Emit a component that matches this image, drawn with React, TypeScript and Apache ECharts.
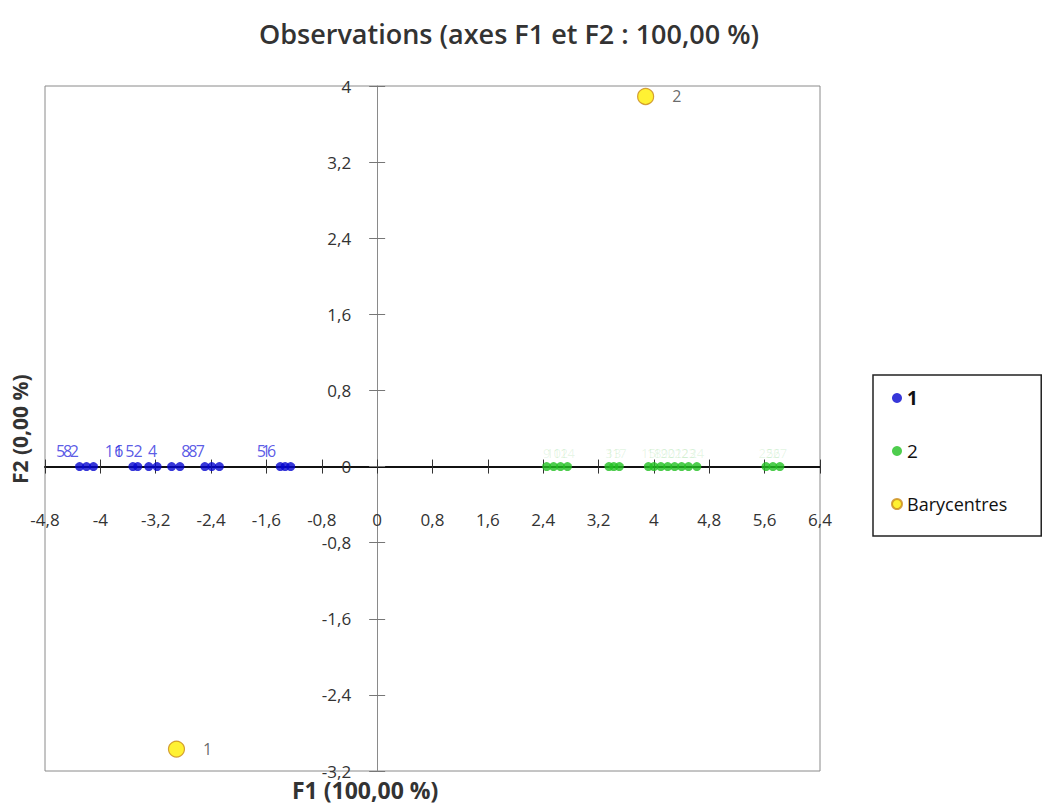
import React, { useEffect, useRef } from "react";
import * as echarts from "echarts";

const titleText = "Observations (axes F1 et F2 : 100,00 %)";
const xAxisTitle = "F1 (100,00 %)";
const yAxisTitle = "F2 (0,00 %)";

const xMin = -4.8;
const xMax = 6.4;
const yMin = -3.2;
const yMax = 4;
const step = 0.8;

const blueX = [-4.30, -4.20, -4.10, -3.53, -3.46, -3.30, -3.18, -2.97, -2.85, -2.49, -2.39, -2.28, -1.40, -1.33, -1.25];
const blueY = [0, 0, 0, 0, 0, 0, 0, 0, 0, 0, 0, 0, 0, 0, 0];
const blueLabels = ["5", "8", "2", "11", "6", "5", "2", "4", "", "8", "8", "7", "5", "1", "6"];

const greenX = [2.45, 2.55, 2.65, 2.75, 3.35, 3.42, 3.50, 3.92, 4.00, 4.10, 4.20, 4.30, 4.40, 4.50, 4.62, 5.62, 5.72, 5.82];
const greenY = [0, 0, 0, 0, 0, 0, 0, 0, 0, 0, 0, 0, 0, 0, 0, 0, 0, 0];
const greenLabels = ["9", "10", "12", "14", "3", "13", "17", "15", "18", "19", "20", "21", "22", "23", "24", "25", "26", "27"];

const baryX = [-2.90, 3.88];
const baryY = [-2.97, 3.89];
const baryLabels = ["1", "2"];

const seriesNames = ["1", "2", "Barycentres"];

const FONT = "'Open Sans', Lato, sans-serif";

const fmt = (v: number) => String(Math.round(v * 10) / 10).replace(".", ",");

export default function App() {
  const ref = useRef<HTMLDivElement>(null);
  useEffect(() => {
    document.body.style.margin = "0";
    const chart = echarts.init(ref.current!, undefined, { renderer: "svg" });
    const gL = 45, gT = 86, gW = 775, gH = 685;
    // offsets so that the axes cross at the origin
    const xZeroPx = (gW * (0 - xMin)) / (xMax - xMin);
    const yZeroFromBottom = (gH * (0 - yMin)) / (yMax - yMin);
    const axisCommonX = {
      type: "value" as const,
      min: xMin,
      max: xMax,
      interval: step,
      position: "bottom" as const,
      offset: -yZeroFromBottom,
      splitLine: { show: false },
    };
    const axisCommonY = {
      type: "value" as const,
      min: yMin,
      max: yMax,
      interval: step,
      position: "left" as const,
      offset: -xZeroPx,
      splitLine: { show: false },
    };
    const baryLabelStyle = {
      show: true,
      position: "right" as const,
      distance: 18,
      fontFamily: FONT,
      fontSize: 16,
      color: "#444444",
    };
    chart.setOption({
      animation: false,
      backgroundColor: "#ffffff",
      title: {
        text: titleText,
        left: 254,
        top: 15,
        textStyle: { fontFamily: FONT, fontSize: 27, fontWeight: 600, color: "#333333" },
      },
      grid: {
        left: gL,
        top: gT,
        width: gW,
        height: gH,
        show: true,
        borderColor: "#8a8a8a",
        borderWidth: 1,
        containLabel: false,
        outerBoundsMode: "none",
      },
      legend: {
        orient: "vertical",
        left: 873,
        top: 375,
        padding: [13, 34, 22, 18],
        itemGap: 33,
        itemWidth: 10,
        itemHeight: 10,
        borderColor: "#222222",
        borderWidth: 1.5,
        textStyle: { fontFamily: FONT, fontSize: 18, lineHeight: 20, color: "#111111" },
        data: [
          { name: "1", icon: "circle", textStyle: { fontWeight: "bold", fontSize: 19 } },
          { name: "2", icon: "circle", textStyle: { fontSize: 19 } },
          { name: "Barycentres", icon: "circle" },
        ],
      },
      xAxis: [
        {
          ...axisCommonX,
          axisLine: { onZero: false, lineStyle: { color: "#111111", width: 2 } },
          axisTick: { show: true, inside: false, length: 7, lineStyle: { color: "#333333", width: 1 } },
          axisLabel: { margin: 44, formatter: fmt, fontFamily: FONT, fontSize: 17, color: "#333333" },
        },
        {
          ...axisCommonX,
          axisLine: { show: false, onZero: false },
          axisTick: { show: true, inside: true, length: 7, lineStyle: { color: "#333333", width: 1 } },
          axisLabel: { show: false },
        },
      ],
      yAxis: [
        {
          ...axisCommonY,
          axisLine: { onZero: false, lineStyle: { color: "#8a8a8a", width: 1 } },
          axisTick: { show: true, inside: false, length: 8, lineStyle: { color: "#777777", width: 1 } },
          axisLabel: { margin: 26, formatter: fmt, fontFamily: FONT, fontSize: 17, color: "#333333" },
        },
        {
          ...axisCommonY,
          axisLine: { show: false, onZero: false },
          axisTick: { show: true, inside: true, length: 8, lineStyle: { color: "#777777", width: 1 } },
          axisLabel: { show: false },
        },
      ],
      graphic: [
        {
          type: "text",
          left: 292,
          top: 778,
          style: { text: xAxisTitle, fontFamily: FONT, fontSize: 23, fontWeight: "bold", fill: "#333333" },
        },
        {
          type: "text",
          x: 9,
          y: 484,
          rotation: Math.PI / 2,
          style: { text: yAxisTitle, fontFamily: FONT, fontSize: 21, fontWeight: "bold", fill: "#333333" },
        },
      ],
      series: [
        {
          name: seriesNames[0],
          type: "scatter",
          xAxisIndex: 0,
          yAxisIndex: 0,
          symbol: "circle",
          symbolSize: 9,
          itemStyle: { color: "#0505d0" },
          data: blueX.map((x, i) => ({ value: [x, blueY[i]], label: { formatter: blueLabels[i] } })),
          label: {
            show: true,
            position: "top",
            distance: 3,
            offset: [-19, 0],
            fontFamily: FONT,
            fontSize: 16,
            color: "#3030e0",
          },
          z: 3,
        },
        {
          name: seriesNames[1],
          type: "scatter",
          xAxisIndex: 0,
          yAxisIndex: 0,
          symbol: "circle",
          symbolSize: 9,
          itemStyle: { color: "#22c022" },
          data: greenX.map((x, i) => ({ value: [x, greenY[i]], label: { formatter: greenLabels[i] } })),
          label: {
            show: true,
            position: "top",
            distance: 3,
            fontFamily: FONT,
            fontSize: 13,
            color: "rgba(60,190,60,0.15)",
          },
          z: 3,
        },
        {
          name: seriesNames[2],
          type: "scatter",
          xAxisIndex: 0,
          yAxisIndex: 0,
          symbol: "circle",
          symbolSize: 16,
          itemStyle: { color: "#ffee00", borderColor: "#c98a1a", borderWidth: 1.2 },
          data: baryX.map((x, i) => ({
            value: [x, baryY[i]],
            label: { ...baryLabelStyle, formatter: baryLabels[i] },
          })),
          label: baryLabelStyle,
          z: 4,
        },
      ],
    });
    return () => chart.dispose();
  }, []);
  return <div ref={ref} style={{ width: 1048, height: 810, position: "absolute", left: 0, top: 0 }} />;
}
